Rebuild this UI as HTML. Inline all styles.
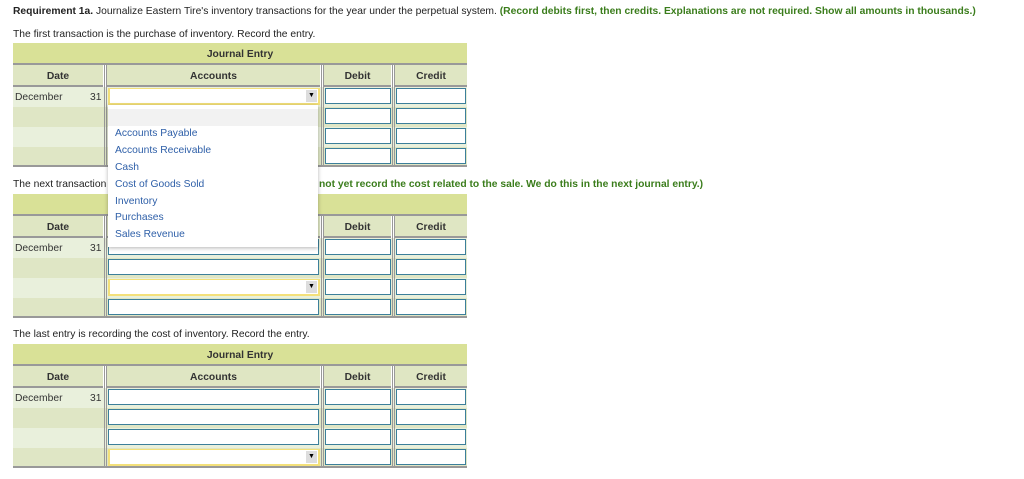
<!DOCTYPE html>
<html><head><meta charset="utf-8"><style>
body{margin:0;width:1024px;height:479px;background:#fff;position:relative;overflow:hidden;font-family:"Liberation Sans",Arial,sans-serif;font-size:10.3px;color:#222}
.a{position:absolute}
.t{position:absolute;white-space:nowrap;line-height:12px}
.g{color:#3b7d1c;font-weight:bold}
.ti{position:absolute;left:13px;width:454px;height:20px;background:#d9e197;border-bottom:2px solid #999;text-align:center;font-weight:bold;line-height:23px;color:#333}
.hd{position:absolute;height:20px;background:#dfe6c3;border-bottom:2px solid #999;text-align:center;font-weight:bold;line-height:23px;color:#333}
.vl{position:absolute;width:1px;background:#999}
.r1{position:absolute;left:13px;width:454px;height:20px;background:#e9f0dc}
.r2{position:absolute;left:13px;width:454px;height:20px;background:#dfe6c5}
.in{position:absolute;height:14px;background:#fff;border:1px solid #3c7f9a}
.sel{position:absolute;height:14px;background:#fff;border:2px solid #f3e07a;border-top-width:1px}
.ar{position:absolute;right:1px;top:1px;width:11px;height:12px;background:#ddd;font-size:7px;line-height:12px;text-align:center;color:#000}
.bl{position:absolute;left:13px;width:454px;height:2px;background:#999}
.dt{position:absolute;left:15px;color:#333}
.dd{position:absolute;color:#333}
.it{position:absolute;left:115px;color:#2e5fa8;line-height:12px}
</style></head><body>
<div class="t" style="left:13px;top:6px"><b>Requirement 1a.</b> Journalize Eastern Tire's inventory transactions for the year under the perpetual system. <span class="g">(Record debits first, then credits. Explanations are not required. Show all amounts in thousands.)</span></div>
<div class="t" style="left:13px;top:29px">The first transaction is the purchase of inventory. Record the entry.</div>

<!-- Table 1 -->
<div class="ti" style="top:43px">Journal Entry</div>
<div class="hd" style="top:65px;left:13px;width:90px">Date</div>
<div class="hd" style="top:65px;left:107px;width:213px">Accounts</div>
<div class="hd" style="top:65px;left:324px;width:67px">Debit</div>
<div class="hd" style="top:65px;left:395px;width:72px">Credit</div>
<div class="r1" style="top:87px"></div><div class="r2" style="top:107px"></div><div class="r1" style="top:127px"></div><div class="r2" style="top:147px"></div>
<div class="bl" style="top:165px"></div>
<div class="vl" style="left:104px;top:65px;height:100px"></div><div class="vl" style="left:106px;top:65px;height:100px"></div>
<div class="vl" style="left:321px;top:65px;height:100px"></div><div class="vl" style="left:323px;top:65px;height:100px"></div>
<div class="vl" style="left:392px;top:65px;height:100px"></div><div class="vl" style="left:394px;top:65px;height:100px"></div>
<div class="dt" style="top:92px">December</div><div class="dd" style="left:90px;top:92px">31</div>
<div class="sel" style="left:108px;top:88px;width:208px"><div class="ar">▼</div></div>
<div class="in" style="left:325px;top:88px;width:64px"></div><div class="in" style="left:396px;top:88px;width:68px"></div>
<div class="in" style="left:325px;top:108px;width:64px"></div><div class="in" style="left:396px;top:108px;width:68px"></div>
<div class="in" style="left:325px;top:128px;width:64px"></div><div class="in" style="left:396px;top:128px;width:68px"></div>
<div class="in" style="left:325px;top:148px;width:64px"></div><div class="in" style="left:396px;top:148px;width:68px"></div>

<div class="t" style="left:13px;top:179px">The next transaction</div>
<div class="t g" style="left:319px;top:179px">not yet record the cost related to the sale. We do this in the next journal entry.)</div>

<!-- Table 2 -->
<div class="ti" style="top:194px"></div>
<div class="hd" style="top:216px;left:13px;width:90px">Date</div>
<div class="hd" style="top:216px;left:107px;width:213px">Accounts</div>
<div class="hd" style="top:216px;left:324px;width:67px">Debit</div>
<div class="hd" style="top:216px;left:395px;width:72px">Credit</div>
<div class="r1" style="top:238px"></div><div class="r2" style="top:258px"></div><div class="r1" style="top:278px"></div><div class="r2" style="top:298px"></div>
<div class="bl" style="top:316px"></div>
<div class="vl" style="left:104px;top:216px;height:100px"></div><div class="vl" style="left:106px;top:216px;height:100px"></div>
<div class="vl" style="left:321px;top:216px;height:100px"></div><div class="vl" style="left:323px;top:216px;height:100px"></div>
<div class="vl" style="left:392px;top:216px;height:100px"></div><div class="vl" style="left:394px;top:216px;height:100px"></div>
<div class="dt" style="top:243px">December</div><div class="dd" style="left:90px;top:243px">31</div>
<div class="in" style="left:108px;top:239px;width:209px"></div>
<div class="in" style="left:108px;top:259px;width:209px"></div>
<div class="sel" style="left:108px;top:279px;width:208px"><div class="ar">▼</div></div>
<div class="in" style="left:108px;top:299px;width:209px"></div>
<div class="in" style="left:325px;top:239px;width:64px"></div><div class="in" style="left:396px;top:239px;width:68px"></div>
<div class="in" style="left:325px;top:259px;width:64px"></div><div class="in" style="left:396px;top:259px;width:68px"></div>
<div class="in" style="left:325px;top:279px;width:64px"></div><div class="in" style="left:396px;top:279px;width:68px"></div>
<div class="in" style="left:325px;top:299px;width:64px"></div><div class="in" style="left:396px;top:299px;width:68px"></div>

<!-- Dropdown -->
<div class="a" style="left:108px;top:105px;width:210px;height:142px;background:#fff;box-shadow:0 1px 4px rgba(0,0,0,0.3)"></div>
<div class="a" style="left:108px;top:109px;width:210px;height:17px;background:#f2f2f2"></div>
<div class="it" style="top:128px">Accounts Payable</div>
<div class="it" style="top:145px">Accounts Receivable</div>
<div class="it" style="top:162px">Cash</div>
<div class="it" style="top:179px">Cost of Goods Sold</div>
<div class="it" style="top:196px">Inventory</div>
<div class="it" style="top:212px">Purchases</div>
<div class="it" style="top:229px">Sales Revenue</div>

<div class="t" style="left:13px;top:329px">The last entry is recording the cost of inventory. Record the entry.</div>

<!-- Table 3 -->
<div class="ti" style="top:344px">Journal Entry</div>
<div class="hd" style="top:366px;left:13px;width:90px">Date</div>
<div class="hd" style="top:366px;left:107px;width:213px">Accounts</div>
<div class="hd" style="top:366px;left:324px;width:67px">Debit</div>
<div class="hd" style="top:366px;left:395px;width:72px">Credit</div>
<div class="r1" style="top:388px"></div><div class="r2" style="top:408px"></div><div class="r1" style="top:428px"></div><div class="r2" style="top:448px"></div>
<div class="bl" style="top:466px"></div>
<div class="vl" style="left:104px;top:366px;height:100px"></div><div class="vl" style="left:106px;top:366px;height:100px"></div>
<div class="vl" style="left:321px;top:366px;height:100px"></div><div class="vl" style="left:323px;top:366px;height:100px"></div>
<div class="vl" style="left:392px;top:366px;height:100px"></div><div class="vl" style="left:394px;top:366px;height:100px"></div>
<div class="dt" style="top:393px">December</div><div class="dd" style="left:90px;top:393px">31</div>
<div class="in" style="left:108px;top:389px;width:209px"></div>
<div class="in" style="left:108px;top:409px;width:209px"></div>
<div class="in" style="left:108px;top:429px;width:209px"></div>
<div class="sel" style="left:108px;top:449px;width:208px"><div class="ar">▼</div></div>
<div class="in" style="left:325px;top:389px;width:64px"></div><div class="in" style="left:396px;top:389px;width:68px"></div>
<div class="in" style="left:325px;top:409px;width:64px"></div><div class="in" style="left:396px;top:409px;width:68px"></div>
<div class="in" style="left:325px;top:429px;width:64px"></div><div class="in" style="left:396px;top:429px;width:68px"></div>
<div class="in" style="left:325px;top:449px;width:64px"></div><div class="in" style="left:396px;top:449px;width:68px"></div>
</body></html>
